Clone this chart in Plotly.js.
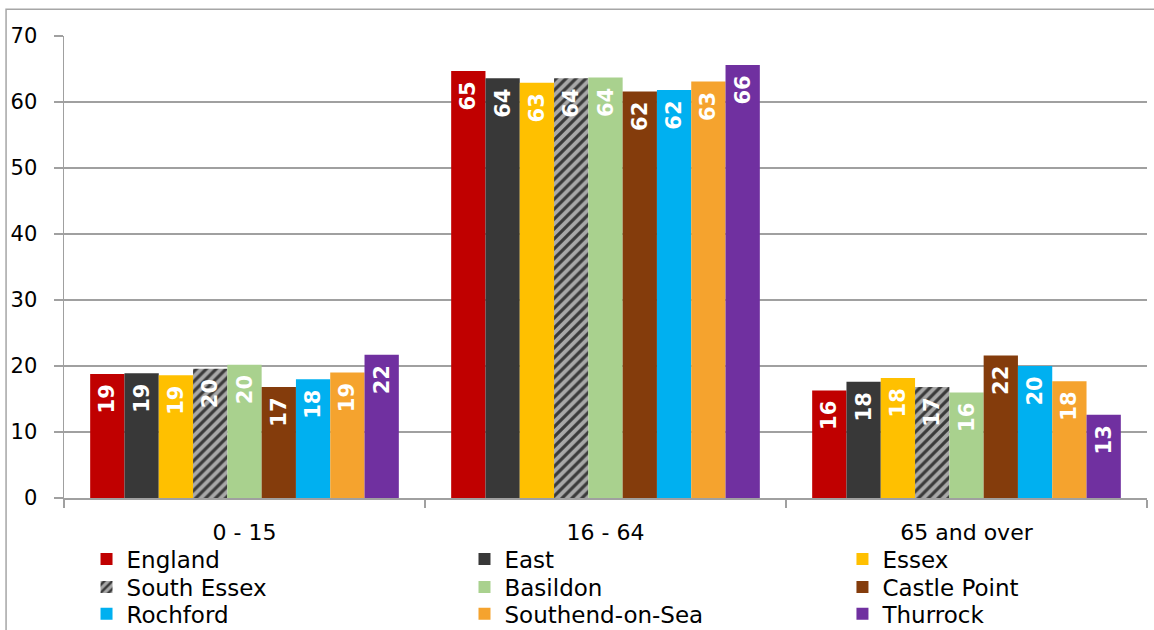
<!DOCTYPE html>
<html>
<head>
<meta charset="utf-8">
<script src="https://cdn.plot.ly/plotly-3.0.1.min.js"></script>
<style>
  html, body { margin: 0; padding: 0; background: #ffffff; }
  #chart { width: 1154px; height: 630px; }
</style>
</head>
<body>
<div id="chart"></div>
<script>
// Population share by age band (%)
const categories = ['0 - 15', '16 - 64', '65 and over'];

const areaNames = ['England', 'East', 'Essex', 'South Essex', 'Basildon',
                   'Castle Point', 'Rochford', 'Southend-on-Sea', 'Thurrock'];

const england      = [18.8, 64.7, 16.3];
const east         = [18.9, 63.6, 17.6];
const essex        = [18.6, 62.9, 18.2];
const southEssex   = [19.6, 63.6, 16.8];
const basildon     = [20.2, 63.7, 16.0];
const castlePoint  = [16.8, 61.6, 21.6];
const rochford     = [18.0, 61.8, 20.0];
const southend     = [19.0, 63.1, 17.7];
const thurrock     = [21.7, 65.6, 12.6];

const seriesValues = [england, east, essex, southEssex, basildon,
                      castlePoint, rochford, southend, thurrock];

const yTickValues = [0, 10, 20, 30, 40, 50, 60, 70];

// styling
const colors = ['#C00000', '#383838', '#FFC000', '#8c8c8c', '#A9D18E',
                '#843C0C', '#00B0F0', '#F5A32E', '#7030A0'];
const FONT = 'DejaVu Sans, Liberation Sans, sans-serif';

// legend grid: 3 columns x 3 rows, one legend box per entry
const legendColX = [0.0208, 0.3698, 0.7188];
const legendRowY = [-0.132, -0.1925, -0.2505];

const traces = areaNames.map((name, i) => {
  const marker = { color: colors[i], line: { width: 0 } };
  if (name === 'South Essex') {
    marker.pattern = { shape: '/', size: 7, solidity: 0.45,
                       fgcolor: '#3a3a3a', bgcolor: '#a8a8a8', fillmode: 'replace' };
  }
  return {
    type: 'bar',
    name: name,
    x: categories,
    y: seriesValues[i],
    marker: marker,
    texttemplate: '%{y:.0f}\u00a0',
    textposition: 'inside',
    insidetextanchor: 'end',
    textangle: -90,
    constraintext: 'none',
    textfont: { family: FONT, size: 21, color: '#ffffff', weight: 'bold' },
    legend: i === 0 ? 'legend' : 'legend' + (i + 1),
    hoverinfo: 'x+y+name'
  };
});

const layout = {
  width: 1154,
  height: 630,
  margin: { l: 64, r: 7, t: 36, b: 132, autoexpand: false },
  paper_bgcolor: '#ffffff',
  plot_bgcolor: '#ffffff',
  barmode: 'group',
  bargap: 0.145,
  bargroupgap: 0,
  showlegend: true,
  font: { family: FONT, color: '#000000' },
  xaxis: {
    type: 'category',
    showline: true,
    linecolor: '#a0a0a0',
    linewidth: 1.5,
    ticks: 'outside',
    tickson: 'boundaries',
    ticklen: 8,
    tickcolor: '#a0a0a0',
    tickwidth: 1.5,
    ticklabelstandoff: 14,
    showgrid: false,
    tickfont: { family: FONT, size: 22, color: '#000000' }
  },
  yaxis: {
    range: [0, 70],
    tickvals: yTickValues,
    showline: true,
    linecolor: '#a0a0a0',
    linewidth: 1.5,
    ticks: 'outside',
    ticklen: 9,
    tickcolor: '#a0a0a0',
    tickwidth: 1.5,
    ticklabelstandoff: 12,
    showgrid: true,
    gridcolor: '#a0a0a0',
    gridwidth: 1.5,
    zeroline: false,
    tickfont: { family: FONT, size: 21, color: '#000000' }
  },
  shapes: [{
    type: 'rect', xref: 'paper', yref: 'paper',
    x0: -0.0535, x1: 1.02, y0: -0.4, y1: 1.058,
    line: { color: '#a6a6a6', width: 1.5 },
    fillcolor: 'rgba(0,0,0,0)',
    layer: 'below'
  }]
};

areaNames.forEach((name, i) => {
  const key = i === 0 ? 'legend' : 'legend' + (i + 1);
  layout[key] = {
    orientation: 'v',
    xanchor: 'left',
    yanchor: 'middle',
    x: legendColX[i % 3],
    y: legendRowY[Math.floor(i / 3)],
    bgcolor: 'rgba(0,0,0,0)',
    itemwidth: 30,
    font: { family: FONT, size: 23, color: '#000000' }
  };
});

Plotly.newPlot('chart', traces, layout, { displayModeBar: false, staticPlot: true });
</script>
</body>
</html>
